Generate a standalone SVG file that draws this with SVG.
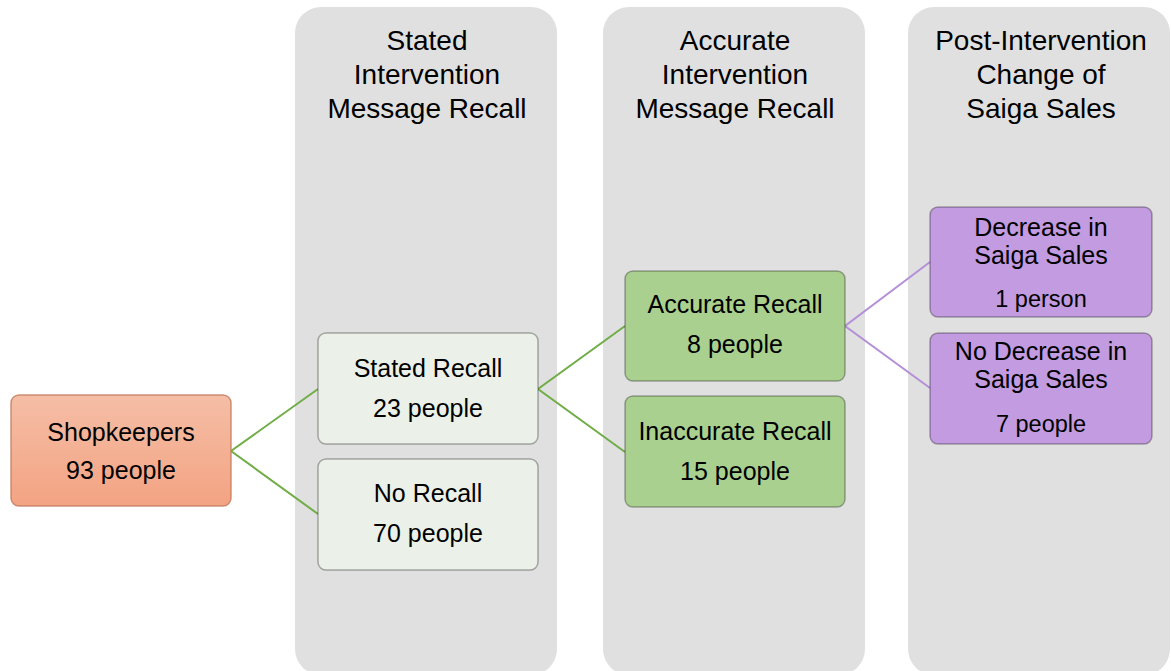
<svg xmlns="http://www.w3.org/2000/svg" width="1171" height="671" viewBox="0 0 1171 671">
<defs>
<linearGradient id="gOrange" x1="0" y1="0" x2="0" y2="1">
<stop offset="0" stop-color="#f5bea6"/>
<stop offset="1" stop-color="#f3a382"/>
</linearGradient>
<style>
.col{fill:#e0e0e0;}
.hdr{font-family:"Liberation Sans",Arial,sans-serif;font-size:28px;fill:#000;text-anchor:middle;}
.txt{font-family:"Liberation Sans",Arial,sans-serif;font-size:25px;fill:#000;text-anchor:middle;}
.sm{font-size:23.5px;}
.node{stroke:#000;stroke-opacity:0.3;stroke-width:1.5;}
.c-or{fill:url(#gOrange);stroke:#c07a5e;stroke-opacity:0.8;}
.c-lg{fill:#ebf1e8;}
.c-g{fill:#a9d08e;}
.c-p{fill:#c39be0;}
.lg{stroke:#70ad47;stroke-width:2;fill:none;}
.lp{stroke:#b48fd8;stroke-width:2;fill:none;}
</style>
</defs>
<g id="columns">
<rect class="col" x="295" y="7" width="262" height="668" rx="26"/>
<rect class="col" x="603" y="7" width="262" height="668" rx="26"/>
<rect class="col" x="908" y="7" width="262" height="668" rx="26"/>
<text class="hdr" x="427" y="50">Stated</text>
<text class="hdr" x="427" y="84">Intervention</text>
<text class="hdr" x="427" y="118">Message Recall</text>
<text class="hdr" x="735" y="50">Accurate</text>
<text class="hdr" x="735" y="84">Intervention</text>
<text class="hdr" x="735" y="118">Message Recall</text>
<text class="hdr" x="1041" y="50">Post-Intervention</text>
<text class="hdr" x="1041" y="84">Change of</text>
<text class="hdr" x="1041" y="118">Saiga Sales</text>
</g>
<g id="connectors">
<polyline class="lg" points="318,389 231,451 318,514"/>
<polyline class="lg" points="625,326 538,389 625,452"/>
<polyline class="lp" points="930,262 845,326 930,388"/>
</g>
<g id="shopkeepers">
<rect class="node c-or" x="11" y="395" width="220" height="111" rx="8"/>
<text class="txt" x="121" y="441">Shopkeepers</text>
<text class="txt" x="121" y="479">93 people</text>
</g>
<g id="stated-recall">
<rect class="node c-lg" x="318" y="333" width="220" height="111" rx="8"/>
<text class="txt" x="428" y="377">Stated Recall</text>
<text class="txt" x="428" y="417">23 people</text>
</g>
<g id="no-recall">
<rect class="node c-lg" x="318" y="459" width="220" height="111" rx="8"/>
<text class="txt" x="428" y="502">No Recall</text>
<text class="txt" x="428" y="542">70 people</text>
</g>
<g id="accurate-recall">
<rect class="node c-g" x="625" y="271" width="220" height="110" rx="8"/>
<text class="txt" x="735" y="313">Accurate Recall</text>
<text class="txt" x="735" y="353">8 people</text>
</g>
<g id="inaccurate-recall">
<rect class="node c-g" x="625" y="396" width="220" height="111" rx="8"/>
<text class="txt" x="735" y="440">Inaccurate Recall</text>
<text class="txt" x="735" y="480">15 people</text>
</g>
<g id="decrease">
<rect class="node c-p" x="930" y="207" width="222" height="110" rx="8"/>
<text class="txt" x="1041" y="236">Decrease in</text>
<text class="txt" x="1041" y="264">Saiga Sales</text>
<text class="txt sm" x="1041" y="307">1 person</text>
</g>
<g id="no-decrease">
<rect class="node c-p" x="930" y="333" width="222" height="111" rx="8"/>
<text class="txt" x="1041" y="360">No Decrease in</text>
<text class="txt" x="1041" y="388">Saiga Sales</text>
<text class="txt sm" x="1041" y="432">7 people</text>
</g>
</svg>
